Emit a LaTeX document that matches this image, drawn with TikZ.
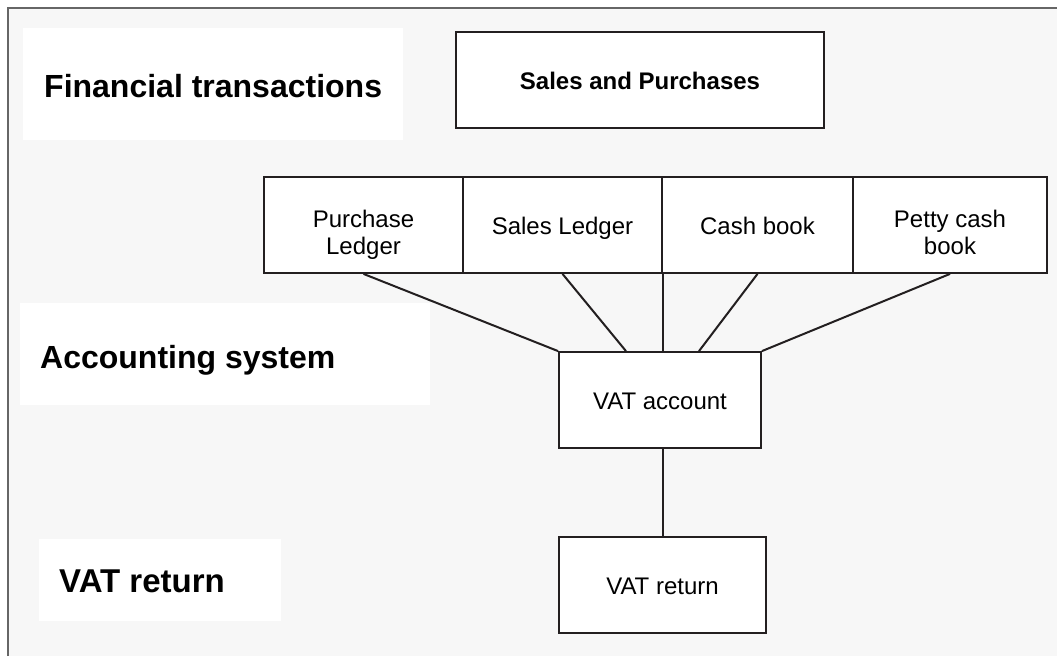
\documentclass[tikz,border=0pt]{standalone}
\usepackage{fontspec}
\setmainfont{Liberation Sans}
\usetikzlibrary{calc}
\definecolor{bg}{HTML}{F7F7F7}
\definecolor{ln}{HTML}{231F20}
\definecolor{framec}{HTML}{666666}
\begin{document}
\begin{tikzpicture}[x=1pt,y=-1pt,
  box/.style={draw=ln, line width=1.8pt, fill=white, inner sep=0pt, minimum height=96pt,
              text height=18pt, text depth=0pt, font=\fontsize{24}{27}\selectfont},
  twoline/.style={text height=58pt, text depth=0pt},
  lbl/.style={anchor=base west, inner sep=0pt, font=\bfseries\fontsize{32}{36}\selectfont},
  wire/.style={draw=ln, line width=2pt}]
\useasboundingbox (0,0) rectangle (1057,656);
\fill[white] (0,0) rectangle (1057,656);
\fill[bg] (8,8) rectangle (1057,656);
\draw[framec, line width=1.6pt] (8,656) -- (8,8) -- (1057,8);

% white label areas
\fill[white] (23,28) rectangle (403,140);
\fill[white] (20,303) rectangle (430,405);
\fill[white] (39,539) rectangle (281,621);

% labels
\node[lbl] (ft) at (44,97) {Financial transactions};
\node[lbl] (as) at (40,368) {Accounting system};
\node[lbl, font=\bfseries\fontsize{33}{37}\selectfont] (vr) at (59,592) {VAT return};

% boxes
\node[box, font=\bfseries\fontsize{24}{27}\selectfont, minimum width=368pt] (sp) at (640,80) {Sales and Purchases};
\node[box, twoline, minimum width=199pt] (pl) at (363.5,225) {\begin{tabular}[b]{@{}c@{}}Purchase\\Ledger\end{tabular}};
\node[box, minimum width=199pt] (sl) at (562.5,225) {Sales Ledger};
\node[box, minimum width=191pt] (cb) at (757.5,225) {Cash book};
\node[box, twoline, minimum width=194pt] (pc) at (950,225) {\begin{tabular}[b]{@{}c@{}}Petty cash\\book\end{tabular}};
\node[box, minimum width=202pt] (va) at (660,400) {VAT account};
\node[box, minimum width=207pt] (ret) at (662.5,585) {VAT return};

% connectors
\draw[wire] (pl.south) -- (va.north west);
\draw[wire] (sl.south) -- ([xshift=-34pt]va.north);
\draw[wire] (sl.south east) -- (sl.south east |- va.north);
\draw[wire] (cb.south) -- ([xshift=39pt]va.north);
\draw[wire] (pc.south) -- (va.north east);
\draw[wire] (ret.north |- va.south) -- (ret.north);
\end{tikzpicture}
\end{document}
